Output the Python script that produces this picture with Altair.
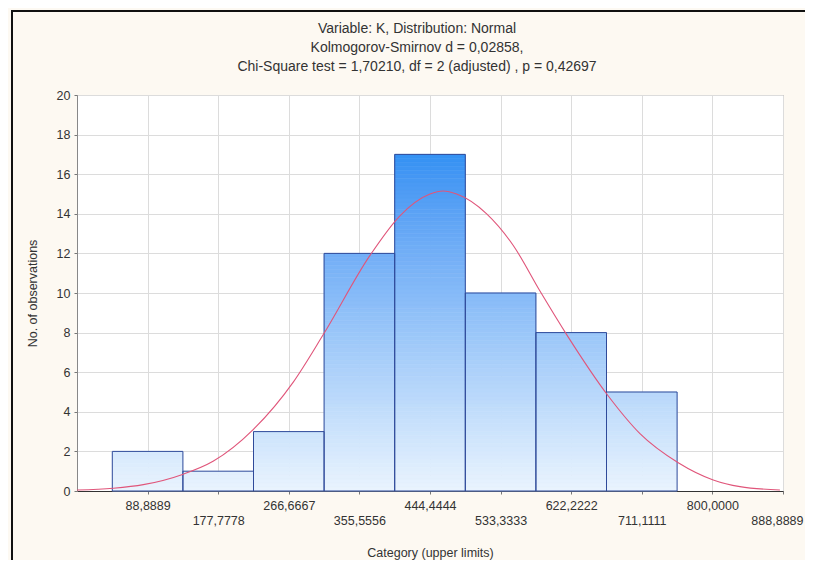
import altair as alt
import pandas as pd

# ---- data ----
tick_labels = ["88,8889", "177,7778", "266,6667", "355,5556", "444,4444",
               "533,3333", "622,2222", "711,1111", "800,0000", "888,8889"]
counts = [2, 1, 3, 12, 17, 10, 8, 5]
curve_x = [0, 45.7, 83.5, 133.8, 171.3, 221.8, 272.3, 310.1, 368.9, 406.6, 444.4,
           461, 478, 515.8, 549.3, 582.9, 616.5, 668.9, 708.8, 757, 801, 834.7, 885]
curve_y = [0.05, 0.14, 0.32, 0.85, 1.5, 3.1, 5.5, 7.9, 11.9, 13.9, 15.0,
           15.15, 15.0, 14.0, 12.4, 10.1, 7.9, 4.8, 2.9, 1.43, 0.56, 0.22, 0.05]
y_ticks = list(range(0, 21, 2))
title_lines = ["Variable: K, Distribution: Normal",
               "Kolmogorov-Smirnov d = 0,02858,",
               "Chi-Square test = 1,70210, df = 2 (adjusted) , p = 0,42697"]

tick_values = [float(s.replace(",", ".")) for s in tick_labels]
half = tick_values[0] / 2

# bars split into thin horizontal slices so the fill shades with height
step = 0.2
rows = []
for c, v in zip(counts, tick_values):
    n = int(round(c / step))
    for k in range(n):
        rows.append({"x0": v - half, "x1": v + half,
                     "y0": k * step, "y1": (k + 1) * step,
                     "level": (k + 0.5) * step})
seg = pd.DataFrame(rows)
bars = pd.DataFrame({"x0": [v - half for v in tick_values[:len(counts)]],
                     "x1": [v + half for v in tick_values[:len(counts)]],
                     "count": counts})
curve = pd.DataFrame({"x": curve_x, "y": curve_y})
frame = pd.DataFrame({"f": [0]})

FONT = "Liberation Sans"
x_scale = alt.Scale(domain=[0, tick_values[-1]], nice=False, zero=False)
y_scale = alt.Scale(domain=[0, 20], nice=False)
color_scale = alt.Scale(domain=[0, 18], range=["#EAF4FE", "#1E8BF2"], clamp=True)

x_axis = alt.Axis(
    title="Category (upper limits)", values=tick_values, format=".4f",
    labelExpr="round(datum.value / %.4f) %% 2 == 0 ? ['', replace(datum.label, '.', ',')] : replace(datum.label, '.', ',')" % tick_values[0],
    labelOverlap=False, labelFlush=True, labelFlushOffset=20, grid=True, gridColor="#DCDCDC",
    tickSize=3, tickColor="#777777", labelLineHeight=15, labelPadding=5,
    labelFont=FONT, labelFontSize=12.5, labelColor="#333333",
    titleFont=FONT, titleFontSize=12.5, titleFontWeight="normal", titleColor="#333333",
    titlePadding=20, domainColor="#333333")
y_axis = alt.Axis(
    title="No. of observations", values=y_ticks, grid=True, gridColor="#DCDCDC",
    tickSize=3, tickColor="#777777", labelPadding=4,
    labelFont=FONT, labelFontSize=12.5, labelColor="#333333",
    titleFont=FONT, titleFontSize=12.5, titleFontWeight="normal", titleColor="#333333",
    titlePadding=17, domainColor="#888888")

seg_layer = alt.Chart(seg).mark_rect(strokeWidth=0.6).encode(
    x=alt.X("x0:Q", scale=x_scale, axis=x_axis),
    x2="x1:Q",
    y=alt.Y("y0:Q", scale=y_scale, axis=y_axis),
    y2="y1:Q",
    color=alt.Color("level:Q", scale=color_scale, legend=None),
    stroke=alt.Stroke("level:Q", scale=color_scale, legend=None),
)

outline = alt.Chart(bars).mark_rect(fillOpacity=0, stroke="#2F4A9A", strokeWidth=1).encode(
    x=alt.X("x0:Q", scale=x_scale, axis=x_axis),
    x2="x1:Q",
    y=alt.Y("count:Q", scale=y_scale, axis=y_axis),
    y2=alt.datum(0),
)

line = alt.Chart(curve).mark_line(color="#E0557A", strokeWidth=1.1, interpolate="monotone").encode(
    x=alt.X("x:Q", scale=x_scale, axis=x_axis),
    y=alt.Y("y:Q", scale=y_scale, axis=y_axis),
)

left_border = alt.Chart(frame).mark_rule(color="#111111", strokeWidth=2).encode(
    x=alt.value(-65), y=alt.value(-84), y2=alt.value(480))
top_border = alt.Chart(frame).mark_rule(color="#111111", strokeWidth=2).encode(
    x=alt.value(-66), x2=alt.value(740), y=alt.value(-84))

chart = alt.layer(seg_layer, outline, line, left_border, top_border).properties(
    width=706, height=396,
    title=alt.TitleParams(text=title_lines, font=FONT, fontSize=14, fontWeight="normal",
                          color="#333333", lineHeight=19, anchor="middle", frame="group",
                          dx=-13, offset=-64),
    autosize=alt.AutoSizeParams(type="none"),
    padding={"left": 69, "top": 87, "right": 22, "bottom": 69},
).configure(background="#FDF9F2").configure_view(fill="white", stroke="#8C8C8C")

chart.save("out.html", embed_options={"renderer": "svg", "actions": False})
